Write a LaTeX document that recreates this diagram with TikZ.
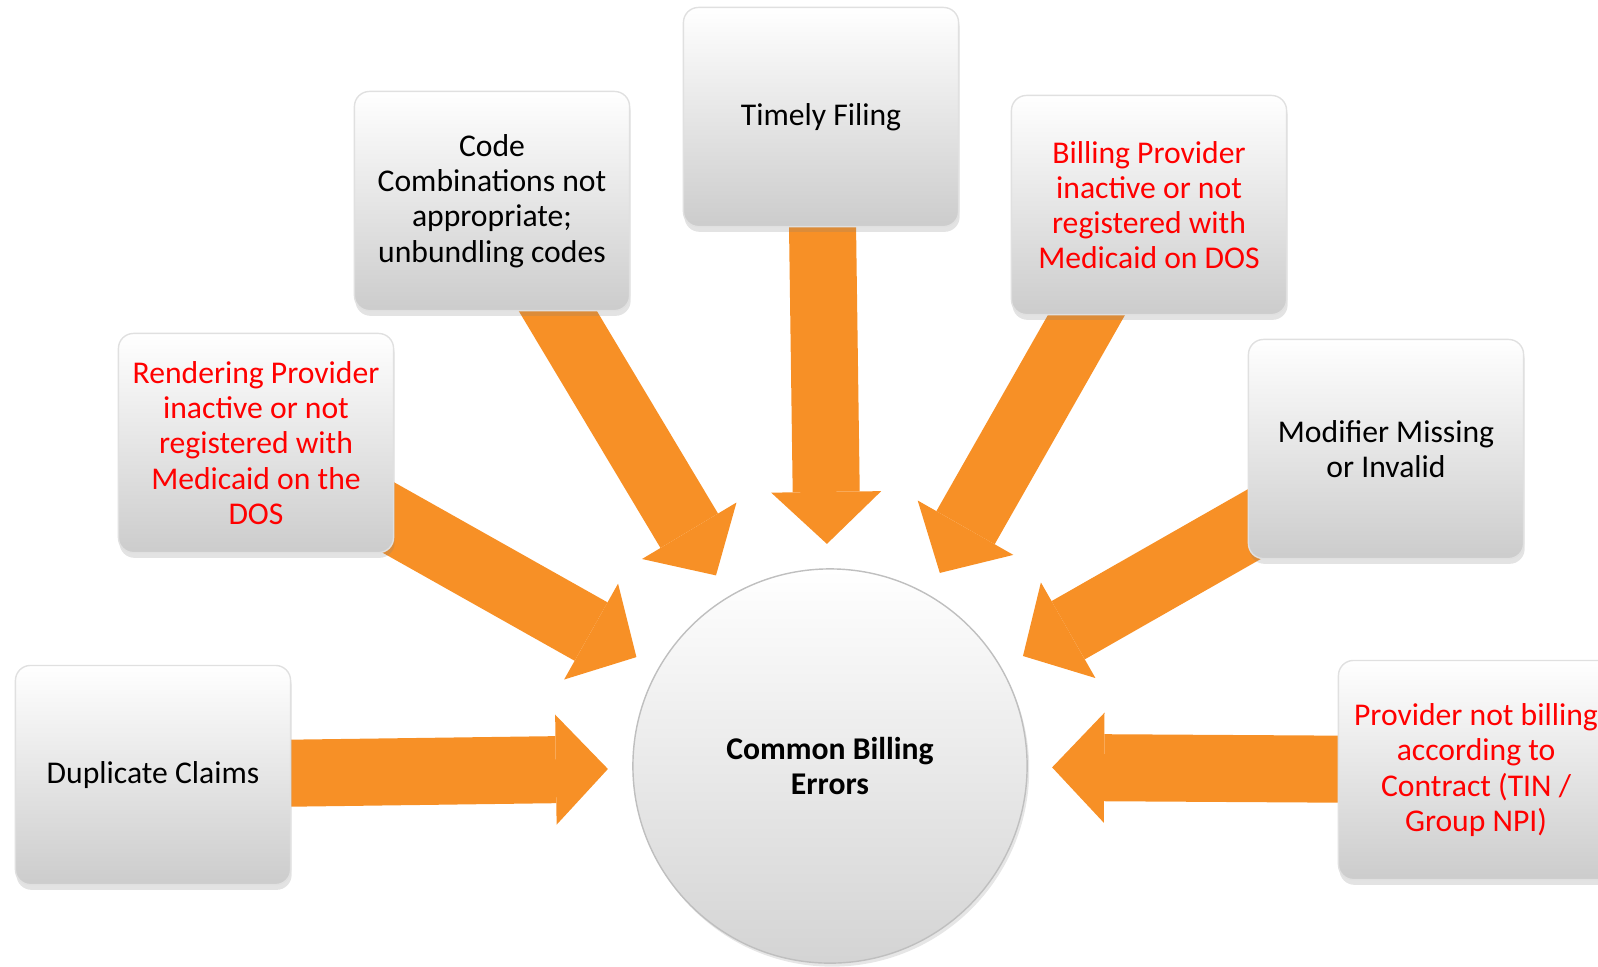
\documentclass[tikz,border=0pt]{standalone}
\usepackage{fontspec}
\setmainfont{Carlito}
\usetikzlibrary{arrows.meta, calc, shadows, backgrounds}

\definecolor{arrorange}{RGB}{247,144,38}

\tikzset{
  errbox/.style={rectangle, rounded corners=0.15cm, draw=black!12, top color=white, middle color=black!2, bottom color=black!20,
    minimum width=2.75cm, minimum height=2.19cm, align=center,
    drop shadow={shadow xshift=0.3pt, shadow yshift=-1.5pt, opacity=0.22}},
  redtext/.style={text=red},
  flow/.style={draw=arrorange, line width=0.67cm, -{Triangle[length=0.52cm, width=1.1cm, line width=0pt]}},
}

\begin{document}
\begin{tikzpicture}[x=0.01cm, y=-0.01cm, font=\fontsize{9}{10}\selectfont]
\clip (0,0) rectangle (1598,966);

% Centre circle
\node[circle, draw=black!25, top color=white, middle color=white, bottom color=black!17, minimum size=3.94cm, align=center,
  font=\fontsize{9}{10}\selectfont\bfseries,
  drop shadow={shadow xshift=0.6pt, shadow yshift=-1pt, opacity=0.2}] (hub) at (830,766) {Common Billing\\Errors};

% Boxes round the circle
\node[errbox] (dup) at (153,775) {Duplicate Claims};
\node[errbox, redtext] (rend) at (256,443) {Rendering Provider\\inactive or not\\registered with\\Medicaid on the\\DOS};
\node[errbox] (code) at (492,201) {Code\\Combinations not\\appropriate;\\unbundling codes};
\node[errbox] (timely) at (821,117) {Timely Filing};
\node[errbox, redtext] (billing) at (1149,205) {Billing Provider\\inactive or not\\registered with\\Medicaid on DOS};
\node[errbox] (modif) at (1386,449) {Modifier Missing\\or Invalid};
\node[errbox, redtext] (prov) at (1476,770) {Provider not billing\\according to\\Contract (TIN /\\Group NPI)};

% Arrows from each box towards the circle, behind the boxes
\begin{scope}[on background layer]
\foreach \b in {dup,rend,code,timely,billing,modif,prov}
  \draw[flow] (\b.center) -- ($(hub)!2.22cm!(\b)$);
\end{scope}
\end{tikzpicture}
\end{document}
